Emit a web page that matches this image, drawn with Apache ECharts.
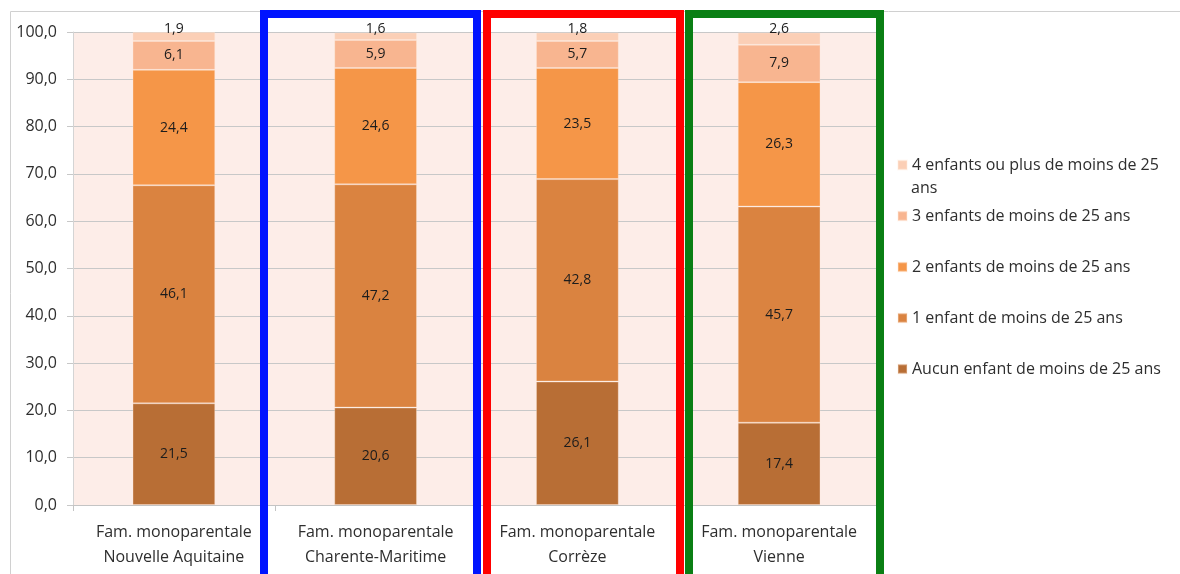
<!DOCTYPE html>
<html>
<head>
<meta charset="utf-8">
<script src="https://cdn.jsdelivr.net/npm/echarts@6/dist/echarts.min.js"></script>
<style>
  html, body { margin: 0; padding: 0; background: #ffffff; }
  #chart { width: 1180px; height: 574px; }
</style>
</head>
<body>
<div id="chart"></div>
<script>
// Familles monoparentales selon le nombre d'enfants de moins de 25 ans (%)
const categories = [
  'Fam. monoparentale\nNouvelle Aquitaine',
  'Fam. monoparentale\nCharente-Maritime',
  'Fam. monoparentale\nCorrèze',
  'Fam. monoparentale\nVienne'
];
const seriesNames = [
  'Aucun enfant de moins de 25 ans',
  '1 enfant de moins de 25 ans',
  '2 enfants de moins de 25 ans',
  '3 enfants de moins de 25 ans',
  '4 enfants ou plus de moins de 25 ans'
];
const aucun    = [21.5, 20.6, 26.1, 17.4];
const unEnfant = [46.1, 47.2, 42.8, 45.7];
const deux     = [24.4, 24.6, 23.5, 26.3];
const trois    = [6.1, 5.9, 5.7, 7.9];
const quatrePlus = [1.9, 1.6, 1.8, 2.6];
const yTicks = [0, 10, 20, 30, 40, 50, 60, 70, 80, 90, 100];

const values = [aucun, unEnfant, deux, trois, quatrePlus];
const colors = ['#b86e35', '#da8340', '#f59648', '#f8b590', '#fbcfb6'];

const FONT = '"Open Sans", "Liberation Sans", sans-serif';
const fmt = v => v.toFixed(1).replace('.', ',');

const chart = echarts.init(document.getElementById('chart'), null, { renderer: 'canvas' });

const series = seriesNames.map((name, i) => ({
  name: name,
  type: 'bar',
  stack: 'total',
  barWidth: '41%',
  data: values[i],
  itemStyle: {
    color: colors[i],
    borderColor: 'rgba(255,235,220,0.3)',
    borderWidth: 1
  },
  label: {
    show: true,
    position: i === seriesNames.length - 1 ? 'top' : 'inside',
    distance: -4,
    color: '#1c1c1c',
    fontFamily: FONT,
    fontSize: 14,
    formatter: p => fmt(p.value)
  }
}));

chart.setOption({
  animation: false,
  textStyle: { fontFamily: FONT },
  grid: {
    left: 73, right: 300, top: 32, bottom: 69,
    show: true, backgroundColor: '#fdede8', borderWidth: 0
  },
  legend: [
    {
      orient: 'vertical',
      left: 897, top: 155,
      padding: 0,
      icon: 'rect', itemWidth: 9, itemHeight: 9,
      data: [seriesNames[4]],
      selectedMode: false,
      formatter: () => '4 enfants ou plus de moins de 25',
      textStyle: { fontFamily: FONT, fontSize: 16, color: '#2e2e2e', lineHeight: 20 }
    },
    {
      orient: 'vertical',
      left: 897, top: 206,
      padding: 0,
      itemGap: 31,
      icon: 'rect', itemWidth: 9, itemHeight: 9,
      data: [seriesNames[3], seriesNames[2], seriesNames[1], seriesNames[0]],
      selectedMode: false,
      textStyle: { fontFamily: FONT, fontSize: 16, color: '#2e2e2e', lineHeight: 20 }
    }
  ],
  xAxis: {
    type: 'category',
    data: categories,
    axisLine: { show: true, lineStyle: { color: '#c4c4c4', width: 1 } },
    axisTick: { show: true, length: 6, lineStyle: { color: '#c4c4c4' } },
    axisLabel: {
      interval: 0, margin: 15,
      fontFamily: FONT, fontSize: 16, lineHeight: 25, color: '#2e2e2e'
    }
  },
  yAxis: {
    type: 'value',
    min: yTicks[0], max: yTicks[yTicks.length - 1], interval: 10,
    axisLine: { show: true, lineStyle: { color: '#d4d4d4' } },
    axisTick: { show: true, length: 6, lineStyle: { color: '#c8c8c8' } },
    splitLine: { show: true, lineStyle: { color: '#c8c8c8', width: 1 } },
    axisLabel: {
      margin: 16, fontFamily: FONT, fontSize: 16, color: '#2e2e2e',
      formatter: v => fmt(v)
    }
  },
  series: series,
  graphic: [
    // cadre extérieur du graphique
    { type: 'rect', silent: true, z: 0,
      shape: { x: 10.5, y: 11.5, width: 1200, height: 600 },
      style: { fill: null, stroke: '#d0d0d0', lineWidth: 1 } },
    // fin de la seconde ligne de légende
    { type: 'text', silent: true, left: 911, top: 180,
      style: { text: 'ans', font: '16px ' + FONT, fill: '#2e2e2e' } },
    // encadrés des départements
    { type: 'rect', silent: true, z: 100,
      shape: { x: 264, y: 14, width: 213, height: 600 },
      style: { fill: null, stroke: '#0014ff', lineWidth: 8 } },
    { type: 'rect', silent: true, z: 100,
      shape: { x: 487, y: 14, width: 193, height: 600 },
      style: { fill: null, stroke: '#ff0000', lineWidth: 8 } },
    { type: 'rect', silent: true, z: 100,
      shape: { x: 689, y: 14, width: 191, height: 600 },
      style: { fill: null, stroke: '#0a7f14', lineWidth: 8 } }
  ]
});
</script>
</body>
</html>
